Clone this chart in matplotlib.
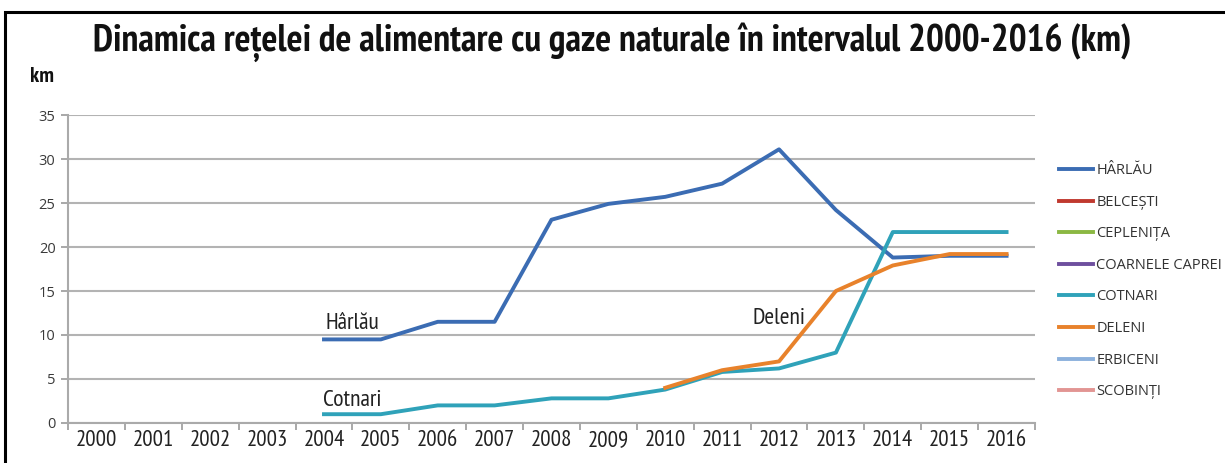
import matplotlib
matplotlib.use("Agg")
import matplotlib.pyplot as plt
from matplotlib import font_manager
from matplotlib.lines import Line2D
from matplotlib.patches import Rectangle

years = [str(y) for y in range(2000, 2017)]

# values, km (None = no data)
harlau = [None, None, None, None, 9.5, 9.5, 11.5, 11.5, 23.1, 24.9, 25.7, 27.2, 31.1, 24.2, 18.8, 19.0, 19.0]
cotnari = [None, None, None, None, 1.0, 1.0, 2.0, 2.0, 2.8, 2.8, 3.8, 5.8, 6.2, 8.0, 21.7, 21.7, 21.7]
deleni = [None] * 10 + [4.0, 6.0, 7.0, 15.0, 17.9, 19.2, 19.2]

legend_names = ["HÂRLĂU", "BELCEȘTI", "CEPLENIȚA", "COARNELE CAPREI",
                "COTNARI", "DELENI", "ERBICENI", "SCOBINȚI"]
legend_colors = ["#3b6cb3", "#c0392f", "#8bb843", "#6e4f9e",
                 "#2fa2b9", "#e8822b", "#8cb1dd", "#e29593"]

# pick a narrow face if one is installed
have = {f.name for f in font_manager.fontManager.ttflist}
narrow = next((n for n in ["PT Sans Narrow", "Roboto Condensed", "Open Sans Condensed",
                           "Fira Sans Condensed", "Archivo Narrow", "Barlow Condensed"] if n in have), "DejaVu Sans")
FONT = [narrow, "DejaVu Sans"]
REG = ["Open Sans", "DejaVu Sans"]
plt.rcParams["font.family"] = FONT

fig = plt.figure(figsize=(12.25, 4.63), dpi=100)
ax = fig.add_axes([68 / 1225, 1 - 423 / 463, (1035 - 68) / 1225, (423 - 115) / 463])

x = list(range(len(years)))


def pts(vals):
    xs = [i for i, v in enumerate(vals) if v is not None]
    return xs, [vals[i] for i in xs]


for vals, col in [(harlau, legend_colors[0]), (cotnari, legend_colors[4]), (deleni, legend_colors[5])]:
    xs, ys = pts(vals)
    ax.plot(xs, ys, color=col, lw=2.8, solid_joinstyle="round", zorder=3)

ax.set_xlim(-0.5, 16.5)
ax.set_ylim(0, 35)
ax.set_yticks(range(0, 36, 5))
ax.set_xticks(x)
ax.set_xticklabels(years, fontsize=16.5, color="#222222")
ax.set_xticks([i - 0.5 for i in range(18)], minor=True)
ax.tick_params(axis="x", which="major", length=0, pad=5)
ax.tick_params(axis="x", which="minor", length=5, color="#999999", width=1.2)
ax.tick_params(axis="y", length=5, color="#999999", width=1.2, labelsize=10.5, labelcolor="#3a3a3a", pad=4)
for t in ax.get_yticklabels():
    t.set_family(REG)
ax.grid(axis="y", color="#b3b3b3", lw=1.5)
ax.set_axisbelow(True)
for s in ["top", "right"]:
    ax.spines[s].set_visible(False)
for s in ["left", "bottom"]:
    ax.spines[s].set_color("#aaaaaa")
    ax.spines[s].set_linewidth(1.5)

ax.text(4.02, 10.68, "Hârlău", fontsize=17, color="#222222", ha="left", va="baseline")
ax.text(3.98, 1.93, "Cotnari", fontsize=17, color="#222222", ha="left", va="baseline")
ax.text(11.53, 11.25, "Deleni", fontsize=17, color="#222222", ha="left", va="baseline")

fig.text(612 / 1225, 1 - 42 / 463, "Dinamica rețelei de alimentare cu gaze naturale în intervalul 2000-2016 (km)",
         fontsize=27, fontweight="bold", ha="center", va="center", color="#111111")
fig.text(30 / 1225, 1 - 76 / 463, "km", fontsize=16, fontweight="bold", ha="left", va="center", color="#111111")

handles = [Line2D([], [], color=c, lw=2.8) for c in legend_colors]
fig.legend(handles, legend_names, loc="upper left", bbox_to_anchor=(1059 / 1225, 1 - 163 / 463),
           frameon=False, handlelength=2.3, handletextpad=0.25, labelspacing=1.14,
           borderpad=0, borderaxespad=0, labelcolor="#333333",
           prop={"family": REG, "size": 10.5})

fig.patches.append(Rectangle((5 / 1225, -0.1), 2, 1.1 - 12 / 463, transform=fig.transFigure,
                             fill=False, edgecolor="black", lw=2.2))

fig.savefig("out.png", dpi=100)
